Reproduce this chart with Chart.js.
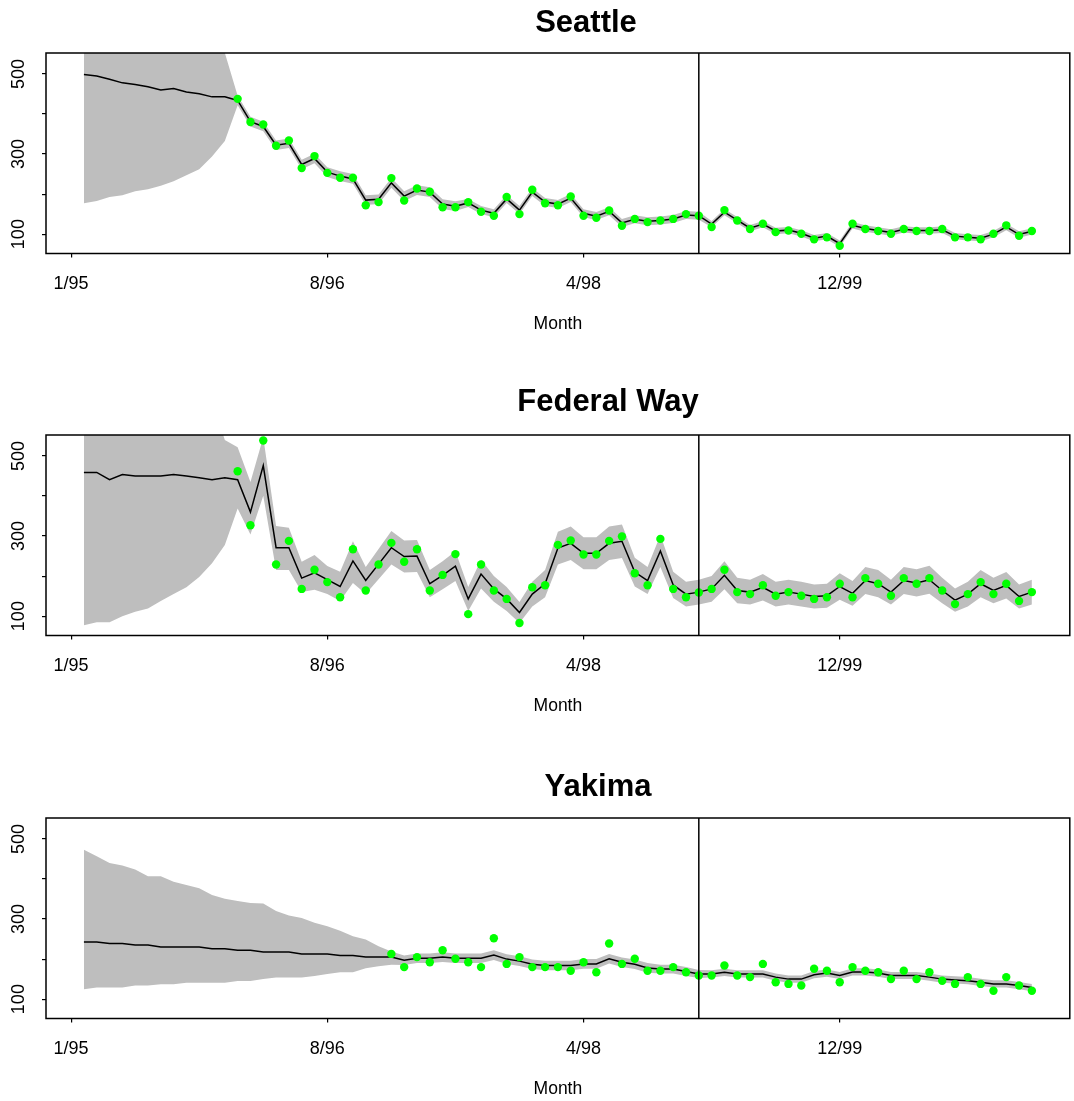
<!DOCTYPE html>
<html>
<head>
<meta charset="utf-8">
<script src="https://cdn.jsdelivr.net/npm/chart.js@4.4.1/dist/chart.umd.min.js"></script>
<style>
  html, body { margin: 0; padding: 0; background: #fff; }
  #page { position: relative; width: 1074px; height: 1101px; overflow: hidden; }
  .panel { position: absolute; left: 0; width: 1074px; height: 336px; }
</style>
</head>
<body>
<div id="page">
  <div class="panel" style="top:0px"><canvas id="seattle" width="1074" height="336"></canvas></div>
  <div class="panel" style="top:382px"><canvas id="fedway" width="1074" height="336"></canvas></div>
  <div class="panel" style="top:765px"><canvas id="yakima" width="1074" height="336"></canvas></div>
</div>
<script>
// months since 1/95 (tick 0 = 1/95)
const months = [1, 2, 3, 4, 5, 6, 7, 8, 9, 10, 11, 12, 13, 14, 15, 16, 17, 18, 19, 20,
  21, 22, 23, 24, 25, 26, 27, 28, 29, 30, 31, 32, 33, 34, 35, 36, 37, 38, 39, 40,
  41, 42, 43, 44, 45, 46, 47, 48, 49, 50, 51, 52, 53, 54, 55, 56, 57, 58, 59, 60,
  61, 62, 63, 64, 65, 66, 67, 68, 69, 70, 71, 72, 73, 74, 75];
const xTickMonths = [0, 20, 40, 60];
const xTickLabels = ['1/95', '8/96', '4/98', '12/99'];
const yTicks = [100, 200, 300, 400, 500];
const yLabelTicks = [100, 300, 500];
const xMin = -1.96;
const xMax = 77.96;
const yMin = 51.6;
const yMax = 552.6;
const splitMonth = 49;

const seattleFit = [499, 495, 487, 478, 474, 468, 460, 464, 455, 451, 443, 443,
  434, 381, 369, 322, 327, 274, 289, 255, 245, 238,
  185, 187, 228, 195, 210, 205, 175, 170, 178, 160,
  152, 188, 160, 205, 180, 175, 190, 152, 145, 157,
  128, 137, 132, 134, 138, 148, 146, 125, 155, 135,
  115, 125, 108, 110, 102, 90, 95, 76, 122, 114,
  109, 104, 112, 109, 109, 111, 95, 92, 90, 100,
  118, 99, 107];
const seattleLower = [177, 183, 193, 197, 207, 212, 221, 232, 247, 262, 294, 333,
  422, 369, 357, 310, 315, 262, 277, 243, 233, 226,
  173, 175, 216, 183, 198, 193, 163, 158, 168, 150,
  142, 178, 150, 195, 170, 165, 180, 142, 135, 147,
  118, 127, 122, 124, 128, 138, 136, 117, 147, 127,
  107, 117, 100, 102, 94, 82, 87, 68, 114, 106,
  101, 96, 104, 101, 101, 103, 87, 84, 82, 92,
  110, 91, 99];
const seattleUpper = [821, 807, 781, 759, 741, 724, 699, 696, 663, 640, 592, 553,
  446, 393, 381, 334, 339, 286, 301, 267, 257, 250,
  197, 199, 240, 207, 222, 217, 187, 182, 188, 170,
  162, 198, 170, 215, 190, 185, 200, 162, 155, 167,
  138, 147, 142, 144, 148, 158, 156, 133, 163, 143,
  123, 133, 116, 118, 110, 98, 103, 84, 130, 122,
  117, 112, 120, 117, 117, 119, 103, 100, 98, 108,
  126, 107, 115];
const seattleObs = [null, null, null, null, null, null, null, null, null, null, null, null,
  438, 380, 374, 321, 334, 265, 295, 253, 241, 241,
  172, 180, 240, 184, 214, 206, 167, 167, 180, 156,
  146, 193, 150, 211, 177, 172, 194, 146, 141, 159,
  121, 138, 130, 134, 138, 150, 146, 118, 160, 134,
  113, 126, 105, 109, 101, 87, 92, 71, 126, 113,
  108, 101, 113, 108, 108, 113, 92, 92, 87, 101,
  122, 96, 108];

const fedwayFit = [459, 459, 441, 454, 450, 450, 450, 454, 450, 446, 441, 446,
  441, 360, 476, 271, 271, 195, 208, 191, 174, 238,
  189, 230, 271, 249, 250, 181, 202, 225, 143, 205,
  168, 143, 109, 155, 181, 270, 282, 257, 257, 282,
  287, 210, 189, 263, 178, 155, 160, 168, 202, 164,
  160, 172, 155, 160, 155, 149, 151, 174, 157, 189,
  181, 160, 189, 183, 191, 164, 140, 155, 181, 164,
  177, 149, 160];
const fedwayLower = [77, 85, 85, 100, 111, 119, 138, 155, 172, 198, 232, 278,
  369, 304, 401, 215, 215, 160, 166, 155, 138, 183,
  155, 192, 229, 209, 210, 147, 167, 188, 113, 169,
  136, 113, 83, 124, 147, 229, 240, 217, 217, 240,
  245, 174, 155, 223, 145, 124, 129, 136, 167, 132,
  129, 139, 124, 129, 124, 119, 121, 141, 126, 155,
  147, 129, 155, 149, 156, 132, 111, 124, 147, 132,
  144, 119, 129];
const fedwayUpper = [841, 833, 797, 808, 789, 781, 762, 753, 728, 694, 640, 540,
  522, 435, 547, 325, 321, 236, 253, 225, 211, 287,
  223, 268, 313, 289, 290, 215, 237, 262, 173, 241,
  200, 173, 135, 186, 215, 311, 324, 297, 297, 324,
  329, 246, 223, 303, 211, 186, 191, 200, 237, 196,
  191, 205, 186, 191, 186, 179, 181, 207, 188, 223,
  215, 191, 223, 217, 226, 196, 169, 186, 215, 196,
  210, 179, 191];
const fedwayObs = [null, null, null, null, null, null, null, null, null, null, null, null,
  462, 327, 539, 229, 288, 168, 216, 185, 147, 267,
  164, 229, 283, 236, 267, 164, 203, 255, 105, 229,
  164, 143, 83, 172, 177, 278, 289, 254, 254, 288,
  299, 207, 177, 293, 168, 147, 159, 168, 216, 160,
  155, 177, 151, 160, 151, 143, 147, 181, 147, 195,
  181, 151, 195, 181, 195, 164, 130, 155, 185, 155,
  181, 138, 160];

const yakimaFit = [243, 243, 239, 239, 235, 235, 230, 230, 230, 230, 226, 226,
  222, 222, 218, 218, 218, 213, 213, 213, 209, 209,
  205, 205, 205, 197, 202, 202, 205, 202, 202, 202,
  210, 200, 195, 187, 184, 184, 184, 188, 188, 201,
  192, 187, 178, 175, 175, 169, 163, 163, 167, 163,
  163, 163, 155, 150, 150, 161, 165, 159, 168, 168,
  165, 159, 159, 159, 155, 150, 148, 146, 142, 138,
  138, 134, 129];
const yakimaLower = [125, 129, 129, 129, 134, 134, 137, 137, 141, 141, 141, 141,
  145, 145, 150, 154, 154, 154, 158, 163, 167, 167,
  177, 182, 186, 185, 190, 190, 193, 190, 190, 190,
  198, 188, 183, 175, 172, 172, 172, 176, 176, 189,
  180, 175, 166, 164, 164, 158, 153, 154, 158, 154,
  154, 154, 146, 141, 141, 152, 156, 150, 159, 159,
  156, 150, 150, 150, 146, 141, 139, 137, 133, 129,
  129, 125, 120];
const yakimaUpper = [473, 457, 440, 434, 424, 407, 407, 393, 385, 377, 360, 351,
  345, 340, 339, 320, 309, 303, 291, 282, 271, 257,
  249, 232, 219, 209, 214, 214, 217, 214, 214, 214,
  222, 212, 207, 199, 196, 196, 196, 200, 200, 213,
  204, 199, 190, 186, 186, 180, 173, 172, 176, 172,
  172, 172, 164, 159, 159, 170, 174, 168, 177, 177,
  174, 168, 168, 168, 164, 159, 157, 155, 151, 147,
  147, 143, 138];
const yakimaObs = [null, null, null, null, null, null, null, null, null, null, null, null,
  null, null, null, null, null, null, null, null, null, null, null, null,
  213, 180, 205, 192, 222, 201, 192, 180,
  252, 188, 205, 180, 180, 180, 171, 192, 167, 239,
  188, 201, 171, 171, 180, 167, 159, 159, 184, 159,
  155, 188, 142, 138, 134, 176, 171, 142, 180, 171,
  167, 150, 171, 150, 167, 146, 138, 155, 138, 121,
  155, 134, 121];

const FONT = '"Liberation Sans", Arial, Helvetica, sans-serif';
Chart.defaults.font.family = FONT;
Chart.defaults.color = '#000';

// frame, split line, title and rotated y labels (R style)
const panelDecor = {
  id: 'panelDecor',
  afterDatasetsDraw(chart, args, opts) {
    const { ctx, chartArea: a, scales } = chart;
    const xs = scales.x.getPixelForValue(splitMonth);
    ctx.save();
    ctx.strokeStyle = '#000';
    ctx.lineWidth = 1.5;
    ctx.beginPath();
    ctx.moveTo(xs, a.top);
    ctx.lineTo(xs, a.bottom);
    ctx.stroke();
    ctx.strokeRect(a.left, a.top, a.right - a.left, a.bottom - a.top);
    ctx.restore();
  },
  afterDraw(chart, args, opts) {
    const { ctx, scales } = chart;
    ctx.save();
    ctx.fillStyle = '#000';
    ctx.font = 'bold 31px ' + FONT;
    ctx.textAlign = 'center';
    ctx.textBaseline = 'alphabetic';
    ctx.fillText(opts.title, opts.titleX, opts.titleY);
    ctx.font = '18px ' + FONT;
    ctx.textBaseline = 'middle';
    yLabelTicks.forEach((v) => {
      ctx.save();
      ctx.translate(19, scales.y.getPixelForValue(v));
      ctx.rotate(-Math.PI / 2);
      ctx.fillText(String(v), 0, 0);
      ctx.restore();
    });
    ctx.restore();
  },
};

function toXY(vals) {
  return months.map((m, i) => ({ x: m, y: vals[i] }));
}

function makePanel(canvasId, title, titleX, titleY, fit, lower, upper, obs) {
  const el = document.getElementById(canvasId);
  if (!el) return;
  new Chart(el, {
    type: 'line',
    data: {
      datasets: [
        {
          label: 'Observed',
          data: toXY(obs),
          showLine: false,
          pointRadius: 4.2,
          pointHoverRadius: 4.2,
          pointBackgroundColor: '#00ff00',
          pointBorderWidth: 0,
          borderColor: '#00ff00',
        },
        {
          label: 'Fitted',
          data: toXY(fit),
          borderColor: '#000',
          borderWidth: 1.5,
          pointRadius: 0,
          tension: 0,
          fill: false,
        },
        {
          label: 'Upper',
          data: toXY(upper),
          borderColor: 'rgba(0,0,0,0)',
          borderWidth: 0,
          pointRadius: 0,
          tension: 0,
          fill: '+1',
          backgroundColor: '#bebebe',
        },
        {
          label: 'Lower',
          data: toXY(lower),
          borderColor: 'rgba(0,0,0,0)',
          borderWidth: 0,
          pointRadius: 0,
          tension: 0,
          fill: false,
        },
      ],
    },
    options: {
      responsive: false,
      animation: false,
      events: [],
      layout: { padding: { top: 53, right: 2, left: 0, bottom: 0 } },
      plugins: {
        legend: { display: false },
        tooltip: { enabled: false },
        panelDecor: { title, titleX, titleY },
      },
      scales: {
        x: {
          type: 'linear',
          min: xMin,
          max: xMax,
          afterBuildTicks: (s) => { s.ticks = xTickMonths.map((v) => ({ value: v })); },
          afterFit: (s) => { s.height = 82.5; },
          ticks: {
            autoSkip: false,
            maxRotation: 0,
            minRotation: 0,
            padding: 16,
            color: '#000',
            font: { size: 18 },
            callback: (v) => xTickLabels[xTickMonths.indexOf(v)],
          },
          grid: { drawOnChartArea: false, drawTicks: true, tickLength: 4, color: '#000', lineWidth: 1.2 },
          border: { display: false },
          title: { display: true, text: 'Month', color: '#000', font: { size: 17.5 }, padding: { top: 0, bottom: 1 } },
        },
        y: {
          type: 'linear',
          min: yMin,
          max: yMax,
          afterBuildTicks: (s) => { s.ticks = yTicks.map((v) => ({ value: v })); },
          afterFit: (s) => { s.width = 46; },
          ticks: { display: false },
          grid: { drawOnChartArea: false, drawTicks: true, tickLength: 4, color: '#000', lineWidth: 1.2 },
          border: { display: false },
        },
      },
    },
    plugins: [panelDecor],
  });
}

makePanel('seattle', 'Seattle', 586, 32, seattleFit, seattleLower, seattleUpper, seattleObs);
makePanel('fedway', 'Federal Way', 608, 28.5, fedwayFit, fedwayLower, fedwayUpper, fedwayObs);
makePanel('yakima', 'Yakima', 598, 31, yakimaFit, yakimaLower, yakimaUpper, yakimaObs);
</script>
</body>
</html>
